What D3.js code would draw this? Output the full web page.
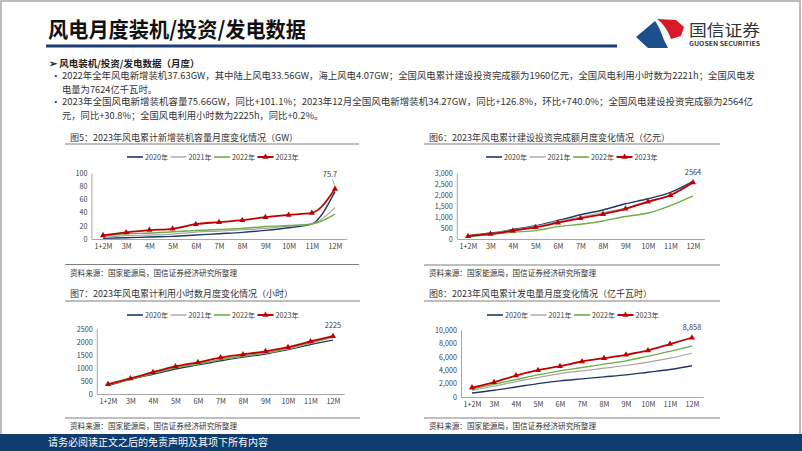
<!DOCTYPE html>
<html>
<head>
<meta charset="utf-8">
<script src="https://cdn.jsdelivr.net/npm/d3@7"></script>
<style>
body { margin: 0; background: #fff; }
svg text { font-family: "Noto Sans CJK SC", "Noto Sans", sans-serif; }
</style>
</head>
<body>
<svg id="slide" width="802" height="451"></svg>
<script>
// ---- data ----
var months = ["1+2M", "3M", "4M", "5M", "6M", "7M", "8M", "9M", "10M", "11M", "12M"];
var years = ["2020年", "2021年", "2022年", "2023年"];

// 累计新增装机容量 (GW)
var capacity2020 = [1, 2, 3, 4, 6, 8, 10, 13, 17, 23, 71.7];
var capacity2021 = [2, 5, 6, 7.5, 10.5, 12, 14, 16, 19.5, 23, 47.6];
var capacity2022 = [4, 7.9, 9, 10.9, 12.9, 14.5, 16, 19, 20.5, 22.5, 37.6];
var capacity2023 = [5.5, 10, 13.5, 15.5, 22.5, 25.5, 28.5, 33, 36.5, 39.5, 75.7];

// 累计建设投资完成额 (亿元)
var invest2020 = [150, 270, 430, 600, 840, 1100, 1320, 1600, 1830, 2120, 2618];
var invest2021 = [140, 250, 410, 580, 800, 1000, 1200, 1410, 1720, 2000, 2580];
var invest2022 = [100, 200, 310, 380, 560, 670, 820, 1020, 1180, 1520, 1960];
var invest2023 = [130, 230, 380, 530, 740, 940, 1130, 1370, 1690, 1990, 2564];

// 累计利用小时数 (小时)
var hours2020 = [320, 560, 760, 960, 1120, 1280, 1420, 1540, 1710, 1900, 2070];
var hours2021 = [360, 580, 800, 1020, 1170, 1330, 1460, 1570, 1730, 1960, 2180];
var hours2022 = [350, 570, 790, 1010, 1150, 1320, 1460, 1580, 1750, 1980, 2200];
var hours2023 = [380, 600, 840, 1060, 1220, 1400, 1520, 1640, 1800, 2020, 2225];

// 累计发电量 (亿千瓦时)
var power2020 = [600, 1000, 1500, 2000, 2400, 2700, 3000, 3300, 3700, 4100, 4665];
var power2021 = [1000, 1600, 2300, 2900, 3500, 3900, 4300, 4700, 5200, 5800, 6526];
var power2022 = [1200, 1900, 2600, 3300, 3900, 4400, 4900, 5400, 6100, 6800, 7624];
var power2023 = [1400, 2200, 3200, 4000, 4600, 5300, 5800, 6300, 6950, 7900, 8858];

var capacityTicks = [0, 20, 40, 60, 80, 100];
var investTicks = [0, 500, 1000, 1500, 2000, 2500, 3000];
var hoursTicks = [0, 500, 1000, 1500, 2000, 2500];
var powerTicks = [0, 2000, 4000, 6000, 8000, 10000];

var seriesColors = ["#1f3864", "#a6a6a6", "#70ad47", "#c00000"];
var seriesWidths = [1.4, 1.2, 1.4, 1.8];

var svg = d3.select("#slide");

// frame
svg.append("rect")
    .attr("x", 1).attr("y", 1).attr("width", 799).attr("height", 446)
    .attr("fill", "none").attr("stroke", "#a6a6a6").attr("stroke-width", 1.5);

// header
svg.append("text")
    .attr("x", 48).attr("y", 37)
    .attr("font-size", 21).attr("font-weight", "bold").attr("fill", "#111")
    .attr("textLength", 258).attr("lengthAdjust", "spacingAndGlyphs")
    .text("风电月度装机/投资/发电数据");
svg.append("rect")
    .attr("x", 46).attr("y", 44.5).attr("width", 571).attr("height", 3)
    .attr("fill", "#1f3f73");

// logo
svg.append("path")
    .attr("d", "M636,37 L655,21 C660,28 662,35 664,40 L668,48 L648,48 Z")
    .attr("fill", "#1f4e8c");
svg.append("path")
    .attr("d", "M657,19 L676,20 L684,27 L681,36 L671,39 C668,31 664,24 657,19 Z")
    .attr("fill", "#d7192a");
svg.append("text")
    .attr("x", 689).attr("y", 36).attr("font-size", 16).attr("fill", "#333")
    .attr("textLength", 71).attr("lengthAdjust", "spacingAndGlyphs")
    .text("国信证券");
svg.append("text")
    .attr("x", 689).attr("y", 46).attr("font-size", 5.6).attr("font-weight", "bold").attr("fill", "#333")
    .attr("textLength", 71).attr("lengthAdjust", "spacingAndGlyphs")
    .text("GUOSEN SECURITIES");

// summary text
svg.append("text")
    .attr("x", 49).attr("y", 66.5).attr("font-size", 9.5).attr("fill", "#222")
    .attr("font-weight", "bold")
    .text("➢ 风电装机/投资/发电数据（月度）");

var bullets = [
    {y: 79, b: true, fit: 693, t: "2022年全年风电新增装机37.63GW，其中陆上风电33.56GW，海上风电4.07GW；全国风电累计建设投资完成额为1960亿元，全国风电利用小时数为2221h；全国风电发"},
    {y: 92.5, b: false, t: "电量为7624亿千瓦时。"},
    {y: 105, b: true, fit: 691, t: "2023年全国风电新增装机容量75.66GW，同比+101.1%；2023年12月全国风电新增装机34.27GW，同比+126.8%，环比+740.0%；全国风电建设投资完成额为2564亿"},
    {y: 118.5, b: false, t: "元，同比+30.8%；全国风电利用小时数为2225h，同比+0.2%。"}
];
bullets.forEach(function(d) {
    if (d.b) {
        svg.append("text").attr("x", 51).attr("y", d.y).attr("font-size", 9.5).attr("fill", "#333").text("•");
    }
    var t = svg.append("text").attr("x", 62).attr("y", d.y).attr("font-size", 9.3).attr("fill", "#333").text(d.t);
    if (d.fit) t.attr("textLength", d.fit).attr("lengthAdjust", "spacingAndGlyphs");
});

// ---- chart panels ----
var panels = [
    {title: "图5：2023年风电累计新增装机容量月度变化情况（GW）", series: [capacity2020, capacity2021, capacity2022, capacity2023],
     ticks: capacityTicks, fmt: d3.format("d"), xr: [91.4, 346.6], yr: [239, 173],
     left: 65, right: 359, titleY: 141, titleLineY: 144, legendX: 127, legendY: 157, srcLineY: 264.5, srcY: 276,
     label: "75.7", leader: true},
    {title: "图6：2023年风电累计建设投资完成额月度变化情况（亿元）", series: [invest2020, invest2021, invest2022, invest2023],
     ticks: investTicks, fmt: d3.format(","), xr: [456.75, 704.25], yr: [239, 173],
     left: 424, right: 720, titleY: 141, titleLineY: 144, legendX: 486, legendY: 157, srcLineY: 265, srcY: 276,
     label: "2564", leader: false},
    {title: "图7：2023年风电累计利用小时数月度变化情况（小时）", series: [hours2020, hours2021, hours2022, hours2023],
     ticks: hoursTicks, fmt: d3.format("d"), xr: [96.75, 344.25], yr: [394, 329],
     left: 65, right: 360, titleY: 296.5, titleLineY: 301, legendX: 127, legendY: 315, srcLineY: 418, srcY: 429,
     label: "2225", leader: false},
    {title: "图8：2023年风电累计发电量月度变化情况（亿千瓦时）", series: [power2020, power2021, power2022, power2023],
     ticks: powerTicks, fmt: d3.format(","), xr: [461, 703], yr: [397, 330],
     left: 424, right: 720, titleY: 296.5, titleLineY: 301, legendX: 487, legendY: 315, srcLineY: 418, srcY: 429,
     label: "8,858", leader: false}
];

panels.forEach(function(p) {
    var g = svg.append("g");

    g.append("text").attr("x", p.left + 5).attr("y", p.titleY)
        .attr("font-size", 9).attr("fill", "#333").text(p.title);
    g.append("line").attr("x1", p.left).attr("x2", p.right)
        .attr("y1", p.titleLineY).attr("y2", p.titleLineY)
        .attr("stroke", "#7f7f7f").attr("stroke-width", 1);

    g.append("line").attr("x1", p.left).attr("x2", p.right)
        .attr("y1", p.srcLineY).attr("y2", p.srcLineY)
        .attr("stroke", "#7f7f7f").attr("stroke-width", 1);
    g.append("text").attr("x", p.left + 5).attr("y", p.srcY)
        .attr("font-size", 7.6).attr("fill", "#333").text("资料来源：国家能源局，国信证券经济研究所整理");

    var x = d3.scalePoint().domain(months).range(p.xr).padding(0.5);
    var y = d3.scaleLinear().domain([0, p.ticks[p.ticks.length - 1]]).range(p.yr);

    var ya = g.append("g").attr("transform", "translate(" + p.xr[0] + ",0)")
        .call(d3.axisLeft(y).tickValues(p.ticks).tickFormat(p.fmt).tickSize(0).tickPadding(4));
    var xa = g.append("g").attr("transform", "translate(0," + p.yr[0] + ")")
        .call(d3.axisBottom(x).tickSize(0).tickPadding(5));
    [ya, xa].forEach(function(a) {
        a.select(".domain").attr("stroke", "#a6a6a6");
        a.selectAll("text").attr("font-size", 7.2).attr("fill", "#404040")
            .attr("font-family", "'Noto Sans', sans-serif");
    });

    var line = d3.line().x(function(d, i) { return x(months[i]); }).y(function(d) { return y(d); })
        .curve(d3.curveMonotoneX);

    p.series.forEach(function(vals, k) {
        g.append("path").datum(vals).attr("d", line)
            .attr("fill", "none").attr("stroke", seriesColors[k]).attr("stroke-width", seriesWidths[k]);
    });
    var last = p.series[3];
    g.selectAll(".mk").data(last).enter().append("path")
        .attr("transform", function(d, i) { return "translate(" + x(months[i]) + "," + y(d) + ")"; })
        .attr("d", d3.symbol(d3.symbolTriangle).size(16))
        .attr("fill", seriesColors[3]);

    // end label
    var ex = x(months[months.length - 1]), ey = y(last[last.length - 1]);
    if (p.leader) {
        g.append("line").attr("x1", ex - 3).attr("y1", ey - 10).attr("x2", ex).attr("y2", ey - 3)
            .attr("stroke", "#7f7f7f").attr("stroke-width", 0.6);
        g.append("text").attr("x", ex - 5).attr("y", ey - 12).attr("text-anchor", "middle")
            .attr("font-size", 7.4).attr("fill", "#404040").attr("font-family", "'Noto Sans', sans-serif").text(p.label);
    } else {
        g.append("text").attr("x", ex).attr("y", ey - 8).attr("text-anchor", "middle")
            .attr("font-size", 7.4).attr("fill", "#404040").attr("font-family", "'Noto Sans', sans-serif").text(p.label);
    }

    // legend
    years.forEach(function(yr, k) {
        var lx = p.legendX + k * 43.5;
        g.append("line").attr("x1", lx).attr("x2", lx + 16).attr("y1", p.legendY).attr("y2", p.legendY)
            .attr("stroke", seriesColors[k]).attr("stroke-width", seriesWidths[k] + 0.2);
        if (k === 3) {
            g.append("path").attr("transform", "translate(" + (lx + 8) + "," + p.legendY + ")")
                .attr("d", d3.symbol(d3.symbolTriangle).size(16)).attr("fill", seriesColors[3]);
        }
        g.append("text").attr("x", lx + 18).attr("y", p.legendY + 2.6)
            .attr("font-size", 7.2).attr("fill", "#404040").text(yr);
    });
});

// footer
svg.append("rect").attr("x", 0).attr("y", 434).attr("width", 802).attr("height", 17).attr("fill", "#0f3d6f");
svg.append("text").attr("x", 48).attr("y", 446).attr("font-size", 10).attr("fill", "#fff")
    .text("请务必阅读正文之后的免责声明及其项下所有内容");
</script>
</body>
</html>
